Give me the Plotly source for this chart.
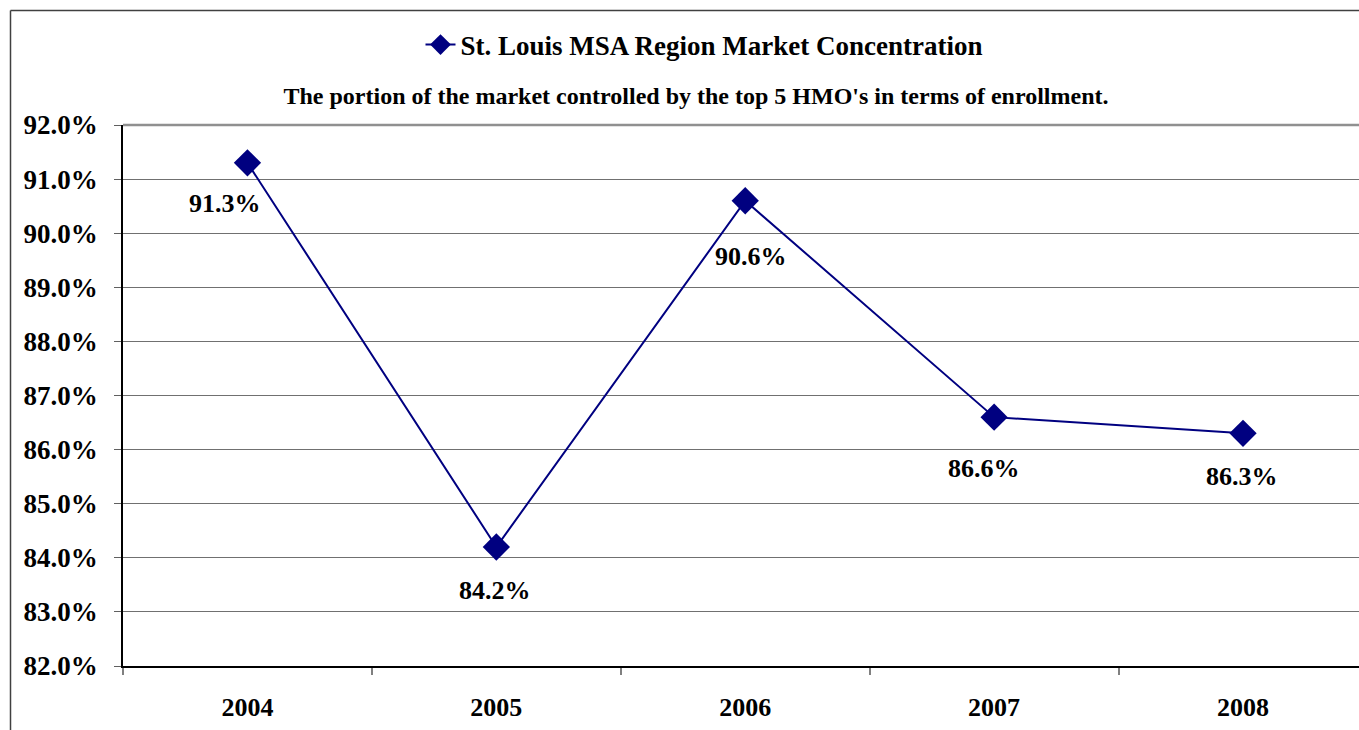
import plotly.graph_objects as go

# Market share held by the five largest HMOs, St. Louis MSA
years = ["2004", "2005", "2006", "2007", "2008"]
share_pct = [91.3, 84.2, 90.6, 86.6, 86.3]
y_ticks = [82, 83, 84, 85, 86, 87, 88, 89, 90, 91, 92]

series_name = "St. Louis MSA Region Market Concentration"
subtitle = "The portion of the market controlled by the top 5 HMO's in terms of enrollment."

NAVY = "#000080"
FONT = "Liberation Serif, Times New Roman, serif"

# pixel offsets of each value label from its marker
label_dx = [-22, -1, 6, -10, -1]
label_dy = [41, 44, 56, 51, 43]

W, H = 1359, 730
M_L, M_R, M_T, M_B = 123, 0, 125, 64

fig = go.Figure()
fig.add_trace(go.Scatter(
    x=years, y=share_pct, mode="lines+markers", name=f"<b>{series_name}</b>",
    line=dict(color=NAVY, width=2),
    marker=dict(symbol="diamond", size=21, color=NAVY),
    hoverinfo="skip",
))

# value labels (category axis: position by category index)
annotations = []
for i, (v, dx, dy) in enumerate(zip(share_pct, label_dx, label_dy)):
    annotations.append(dict(
        x=i, y=v, xref="x", yref="y", text=f"<b>{v:.1f}%</b>", showarrow=False,
        xshift=dx, yshift=-dy, xanchor="center", yanchor="middle",
        font=dict(family=FONT, size=26, color="black"),
    ))

# outer chart frame (left and top edges visible)
plot_w = W - M_L - M_R
plot_h = H - M_T - M_B
fx0 = (10.5 - M_L) / plot_w
fy1 = 1 + (M_T - 10.5) / plot_h
shapes = [
    dict(type="line", xref="paper", yref="paper", x0=fx0, x1=fx0, y0=-1, y1=fy1,
         line=dict(color="#404040", width=1.5)),
    dict(type="line", xref="paper", yref="paper", x0=fx0, x1=2, y0=fy1, y1=fy1,
         line=dict(color="#404040", width=1.5)),
    dict(type="line", xref="paper", yref="paper", x0=0, x1=1, y0=1, y1=1,
         line=dict(color="#909090", width=2.5)),
]

fig.update_layout(
    width=W, height=H,
    margin=dict(l=M_L, r=M_R, t=M_T, b=M_B, pad=0),
    paper_bgcolor="white", plot_bgcolor="white",
    font=dict(family=FONT, color="black"),
    title=dict(text=f"<b>{subtitle}</b>", xref="container", yref="container",
               x=(696 / W), y=1 - 96 / H, xanchor="center", yanchor="middle",
               font=dict(family=FONT, size=24, color="black")),
    showlegend=True,
    legend=dict(orientation="h", xref="container", yref="container",
                x=(704 / W), y=1 - 45 / H, xanchor="center", yanchor="middle",
                font=dict(family=FONT, size=27, color="black"),
                bgcolor="rgba(0,0,0,0)", itemsizing="trace"),
    xaxis=dict(type="category", range=[-0.5, 4.466], tickson="boundaries",
               tickvals=years, ticktext=[f"<b>{y}</b>" for y in years],
               ticks="outside", ticklen=7, tickcolor="#808080", tickwidth=1.5,
               showgrid=False, showline=True, linecolor="black", linewidth=2,
               tickfont=dict(family=FONT, size=26, color="black"),
               ticklabelstandoff=17, zeroline=False, fixedrange=True),
    yaxis=dict(range=[82, 92], tickvals=y_ticks,
               ticktext=[f"<b>{t:.1f}%</b>" for t in y_ticks],
               ticks="outside", ticklen=7, tickcolor="#606060", tickwidth=1,
               showgrid=True, gridcolor="#707070", gridwidth=1,
               showline=True, linecolor="black", linewidth=1.5,
               tickfont=dict(family=FONT, size=27, color="black"),
               ticklabelstandoff=11, zeroline=False, fixedrange=True),
    annotations=annotations,
    shapes=shapes,
)

fig.write_html("out.html", config={"displayModeBar": False})
